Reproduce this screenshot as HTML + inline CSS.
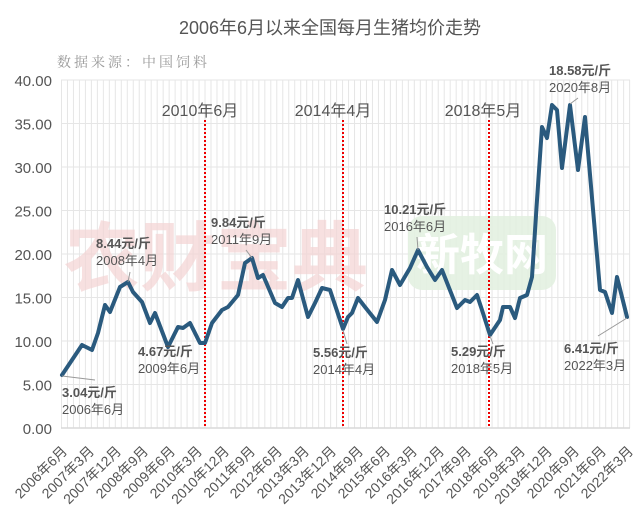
<!DOCTYPE html>
<html><head><meta charset="utf-8"><style>
html,body{margin:0;padding:0;background:#fff;}
svg text{font-family:"Liberation Sans","Noto Sans CJK SC",sans-serif;}
</style></head><body>
<svg width="640" height="514" viewBox="0 0 640 514" xmlns="http://www.w3.org/2000/svg">
<defs>
<pattern id="vp" x="61" y="0" width="5.98" height="10" patternUnits="userSpaceOnUse">
<line x1="0.5" y1="0" x2="0.5" y2="10" stroke="#e6e6e6" stroke-width="1"/>
</pattern>
</defs>
<rect width="640" height="514" fill="#fff"/>
<text x="330" y="34" text-anchor="middle" font-size="18" fill="#555">2006年6月以来全国每月生猪均价走势</text>
<text x="57" y="67" font-size="14" fill="#999" letter-spacing="3" style="font-family:'Noto Serif CJK SC','Noto Sans CJK SC',serif">数据来源：中国饲料</text>
<rect x="61" y="80" width="570" height="348" fill="url(#vp)"/>
<g stroke="#e6e6e6" stroke-width="1">
<line x1="61" y1="80" x2="630" y2="80"/><line x1="61" y1="123.5" x2="630" y2="123.5"/>
<line x1="61" y1="167" x2="630" y2="167"/><line x1="61" y1="210.5" x2="630" y2="210.5"/>
<line x1="61" y1="254" x2="630" y2="254"/><line x1="61" y1="297.5" x2="630" y2="297.5"/>
<line x1="61" y1="341" x2="630" y2="341"/><line x1="61" y1="384.5" x2="630" y2="384.5"/>
</g>
<line x1="61" y1="428" x2="630" y2="428" stroke="#d9d9d9" stroke-width="1.5"/>
<g font-size="15" fill="#555" text-anchor="end">
<text x="52" y="86">40.00</text><text x="52" y="129.5">35.00</text><text x="52" y="173">30.00</text>
<text x="52" y="216.5">25.00</text><text x="52" y="260">20.00</text><text x="52" y="303.5">15.00</text>
<text x="52" y="347">10.00</text><text x="52" y="390.5">5.00</text><text x="52" y="434">0.00</text>
</g>
<text x="216" y="285" text-anchor="middle" font-size="76" font-weight="bold" fill="#f4d4d4" opacity="0.7">农财宝典</text>
<rect x="408" y="216" width="148" height="74" rx="14" fill="#e2f0df" opacity="0.85"/>
<text x="482" y="270" text-anchor="middle" font-size="44" font-weight="bold" fill="#fff">新牧网</text>
<g stroke="#e00" stroke-width="2" stroke-dasharray="2,2">
<line x1="205" y1="120" x2="205" y2="428"/><line x1="343" y1="120" x2="343" y2="428"/><line x1="489" y1="120" x2="489" y2="428"/>
</g>
<g font-size="16" fill="#555" text-anchor="middle">
<text x="200" y="116">2010年6月</text><text x="333" y="116">2014年4月</text><text x="483" y="116">2018年5月</text>
</g>
<polyline fill="none" stroke="#2a5a7e" stroke-width="4" stroke-linejoin="round" stroke-linecap="round" points="62,375 72,360 82,345 92,350 98,333 105,305 110,312 120,287 128,282 133,292 142,302 150,323 155,313 168,347 178,327 183,328 190,323 200,343 205,343 212,323 222,310 228,307 238,295 245,263 252,258 258,278 263,275 275,303 282,307 288,298 292,298 298,280 308,317 315,303 322,288 330,290 343,329 348,317 352,313 358,298 365,307 377,322 385,300 392,270 400,285 410,268 418,250 427,267 435,280 442,270 457,308 465,300 470,302 477,295 482,310 490,335 500,320 503,307 510,307 515,318 520,298 527,295 532,277 537,200 542,127 547,138 552,105 557,110 562,168 570,105 578,170 585,117 600,290 605,292 612,313 617,277 622,297 627,317"/>
<g stroke="#999" stroke-width="1">
<line x1="62" y1="376" x2="95" y2="380"/><line x1="128" y1="282" x2="130" y2="272"/>
<line x1="252" y1="258" x2="246" y2="250"/><line x1="343" y1="330" x2="347" y2="344"/>
<line x1="418" y1="250" x2="417" y2="237"/><line x1="490" y1="336" x2="493" y2="344"/>
<line x1="570" y1="104" x2="578" y2="98"/><line x1="627" y1="318" x2="598" y2="336"/>
</g>
<g font-size="13" fill="#555">
<text x="62" y="397" font-weight="bold">3.04元/斤</text><text x="62" y="414">2006年6月</text>
<text x="96" y="248" font-weight="bold">8.44元/斤</text><text x="96" y="265">2008年4月</text>
<text x="138" y="356" font-weight="bold">4.67元/斤</text><text x="138" y="373">2009年6月</text>
<text x="211" y="227" font-weight="bold">9.84元/斤</text><text x="211" y="244">2011年9月</text>
<text x="313" y="357" font-weight="bold">5.56元/斤</text><text x="313" y="374">2014年4月</text>
<text x="384" y="214" font-weight="bold">10.21元/斤</text><text x="384" y="231">2016年6月</text>
<text x="451" y="356" font-weight="bold">5.29元/斤</text><text x="451" y="373">2018年5月</text>
<text x="549" y="75" font-weight="bold">18.58元/斤</text><text x="549" y="92">2020年8月</text>
<text x="564" y="353" font-weight="bold">6.41元/斤</text><text x="564" y="370">2022年3月</text>
</g>
<g font-size="14" fill="#555" text-anchor="end">
<text transform="translate(68,452) rotate(-45)">2006年6月</text>
<text transform="translate(95,452) rotate(-45)">2007年3月</text>
<text transform="translate(122,452) rotate(-45)">2007年12月</text>
<text transform="translate(149,452) rotate(-45)">2008年9月</text>
<text transform="translate(176,452) rotate(-45)">2009年6月</text>
<text transform="translate(203,452) rotate(-45)">2010年3月</text>
<text transform="translate(230,452) rotate(-45)">2010年12月</text>
<text transform="translate(256,452) rotate(-45)">2011年9月</text>
<text transform="translate(283,452) rotate(-45)">2012年6月</text>
<text transform="translate(310,452) rotate(-45)">2013年3月</text>
<text transform="translate(337,452) rotate(-45)">2013年12月</text>
<text transform="translate(364,452) rotate(-45)">2014年9月</text>
<text transform="translate(391,452) rotate(-45)">2015年6月</text>
<text transform="translate(418,452) rotate(-45)">2016年3月</text>
<text transform="translate(445,452) rotate(-45)">2016年12月</text>
<text transform="translate(472,452) rotate(-45)">2017年9月</text>
<text transform="translate(499,452) rotate(-45)">2018年6月</text>
<text transform="translate(526,452) rotate(-45)">2019年3月</text>
<text transform="translate(553,452) rotate(-45)">2019年12月</text>
<text transform="translate(580,452) rotate(-45)">2020年9月</text>
<text transform="translate(607,452) rotate(-45)">2021年6月</text>
<text transform="translate(634,452) rotate(-45)">2022年3月</text>
</g>
</svg>
</body></html>
